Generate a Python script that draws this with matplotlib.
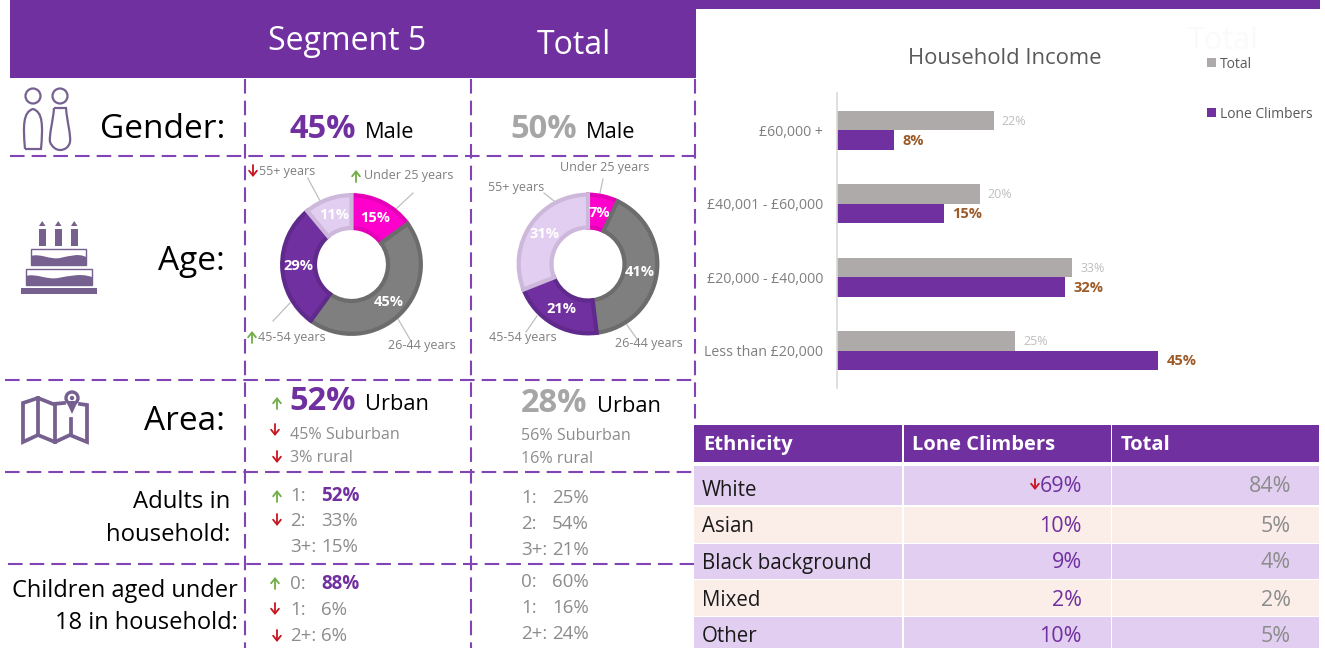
import matplotlib
matplotlib.use("Agg")
import matplotlib.pyplot as plt
from matplotlib.patches import Rectangle, Circle, PathPatch, Polygon
from matplotlib.path import Path

W, H = 1325, 648

PURPLE = "#7030A0"
DASH = "#8044B4"
ICON = "#75608F"
GREY_TXT = "#8C8C8C"
GREEN = "#70AD47"
RED = "#C8141E"

# Data
age_labels = ["Under 25 years", "26-44 years", "45-54 years", "55+ years"]
age_segment = [15, 45, 29, 11]
age_total = [7, 41, 21, 31]
age_colors = ["#FF00CC", "#7F7F7F", "#7030A0", "#E1CEF0"]
age_edges = ["#E400B6", "#6C6C6C", "#5F2A8C", "#CDB8DC"]

income_labels = ["£60,000 +", "£40,001 - £60,000", "£20,000 - £40,000", "Less than £20,000"]
income_total = [22, 20, 33, 25]
income_climbers = [8, 15, 32, 45]

eth_headers = ["Ethnicity", "Lone Climbers", "Total"]
eth_labels = ["White", "Asian", "Black background", "Mixed", "Other"]
eth_climbers = [69, 10, 9, 2, 10]
eth_total = [84, 5, 4, 2, 5]

adults_keys = ["1:", "2:", "3+:"]
adults_segment = [52, 33, 15]
adults_total = [25, 54, 21]
children_keys = ["0:", "1:", "2+:"]
children_segment = [88, 6, 6]
children_total = [60, 16, 24]

plt.rcParams["font.family"] = ["Open Sans", "DejaVu Sans"]
fig = plt.figure(figsize=(W / 100, H / 100), dpi=100, facecolor="white")
ax = fig.add_axes([0, 0, 1, 1])
ax.set_xlim(0, W)
ax.set_ylim(H, 0)
ax.axis("off")


def px_axes(x0, y0, x1, y1):
    a = fig.add_axes([x0 / W, 1 - y1 / H, (x1 - x0) / W, (y1 - y0) / H])
    a.patch.set_alpha(0)
    return a


def txt(x, y, s, size, color="black", ha="left", weight="normal", **kw):
    ax.text(x, y + 3, s, fontsize=size, color=color, ha=ha, va="center", fontweight=weight, **kw)


def arrow(x, y0, y1, color):
    ax.annotate("", xy=(x, y1), xytext=(x, y0),
                arrowprops=dict(arrowstyle="->,head_length=0.35,head_width=0.28", color=color,
                                lw=1.3, shrinkA=0, shrinkB=0))


def up(x, y):
    arrow(x, y + 6, y - 6, GREEN)


def down(x, y):
    arrow(x, y - 6, y + 6, RED)


# Header blocks
ax.add_patch(Rectangle((10, 0), 686, 78, color=PURPLE, lw=0))
ax.add_patch(Rectangle((696, 0), 1320 - 696, 9, color=PURPLE, lw=0))
txt(347, 38, "Segment 5", 23, "white", ha="center")
txt(574, 43, "Total", 23, "white", ha="center")

# Dashed grid
dash = dict(color=DASH, lw=1.5, linestyle=(0, (7, 3.4)))
for y, x0 in [(155.5, 10), (380, 5), (472, 5), (564, 8)]:
    ax.plot([x0, 694], [y, y], **dash)
for x in [245, 471]:
    ax.plot([x, x], [79, H], **dash)
ax.plot([694.5, 694.5], [79, 424], **dash)

# Row titles
txt(225, 127, "Gender:", 24, ha="right")
txt(225, 258, "Age:", 24, ha="right")
txt(225, 419, "Area:", 24, ha="right")
txt(230, 499, "Adults in", 17.2, ha="right")
txt(230, 532, "household:", 17.2, ha="right")
txt(238, 588, "Children aged under", 17, ha="right")
txt(238, 620, "18 in household:", 17, ha="right")

# Gender row
txt(289, 126, "45%", 23.5, PURPLE, weight="bold")
txt(365, 130, "Male", 15.7)
txt(510, 126, "50%", 23.5, "#A6A6A6", weight="bold")
txt(586, 130, "Male", 15.7)

# Area row
txt(289, 399, "52%", 23.5, PURPLE, weight="bold")
txt(365, 402, "Urban", 15.7)
txt(521, 400, "28%", 23.5, "#A6A6A6", weight="bold")
txt(597, 403, "Urban", 15.7)
txt(290, 432, "45% Suburban", 11.6, GREY_TXT)
txt(290, 455, "3% rural", 11.6, GREY_TXT)
txt(521, 433, "56% Suburban", 11.6, GREY_TXT)
txt(521, 456, "16% rural", 11.6, GREY_TXT)
up(277, 403)
down(275, 430)
down(277, 457)

# Adults / children rows
seg_ys = [[493, 518, 544], [581, 607, 633]]
tot_ys = [[495, 521, 547], [579, 605, 631]]
for keys, seg, tot, sy, ty in [(adults_keys, adults_segment, adults_total, seg_ys[0], tot_ys[0]),
                               (children_keys, children_segment, children_total, seg_ys[1], tot_ys[1])]:
    for i in range(3):
        txt(290, sy[i], keys[i], 13.5, GREY_TXT)
        txt(321, sy[i], f"{seg[i]}%", 13.5, PURPLE if i == 0 else GREY_TXT, weight="bold" if i == 0 else "normal")
        txt(521, ty[i], keys[i], 13.5, GREY_TXT)
        txt(552, ty[i], f"{tot[i]}%", 13.5, GREY_TXT)
up(277, 496)
down(277, 520)
up(275, 583)
down(275, 609)
down(277, 636)

# Age donuts
for cx, cy, vals in [(351.5, 264.5, age_segment), (588, 264, age_total)]:
    a = px_axes(cx - 73, cy - 73, cx + 73, cy + 73)
    wedges, _, pcts = a.pie(vals, colors=age_colors, startangle=90, counterclock=False, radius=0.95,
                            wedgeprops=dict(width=0.45, edgecolor="none"),
                            autopct=lambda p: f"{round(p)}%", pctdistance=0.76,
                            textprops=dict(color="white", fontweight="bold", fontsize=10.5))
    for w, e in zip(wedges, age_edges):
        w.set_edgecolor(e)
        w.set_linewidth(3)
        w.set_joinstyle("miter")
    a.set_xlim(-1, 1)
    a.set_ylim(-1, 1)
    a.set_aspect("equal")
    a.axis("off")

lead = dict(color="#BFBFBF", lw=0.9)
for (x0, y0, x1, y1) in [(307.7, 178, 320, 200.7), (413, 193, 396, 209), (398, 319, 411, 341), (290, 303, 273, 321),
                         (603, 179, 600, 193), (544, 193, 554, 201), (627, 325, 637, 339), (537, 316, 526, 332)]:
    ax.plot([x0, x1], [y0, y1], **lead)

age_txt = "#7F7F7F"
txt(259, 168, age_labels[3], 9, age_txt)
txt(364, 173, age_labels[0], 9, age_txt)
txt(388, 342, age_labels[1], 9, age_txt)
txt(258, 334, age_labels[2], 9, age_txt)
txt(560, 165, age_labels[0], 9, age_txt)
txt(488, 184, age_labels[3], 9, age_txt)
txt(615, 341, age_labels[1], 9, age_txt)
txt(489, 335, age_labels[2], 9, age_txt)
down(253, 171)
up(356, 176)
up(252, 337)

# Household income bars
bx = px_axes(837, 93.25, 837 + 50 * 7.13, 387.75)
ypos = list(range(len(income_labels)))
bar_h = 0.265
bx.barh([y - bar_h / 2 for y in ypos], income_total, height=bar_h, color="#AEAAAA")
bx.barh([y + bar_h / 2 for y in ypos], income_climbers, height=bar_h, color=PURPLE)
bx.set_xlim(0, 50)
bx.set_ylim(len(income_labels) - 0.5, -0.5)
bx.set_yticks(ypos, income_labels, fontsize=10.2, color="#7F7F7F")
bx.tick_params(axis="y", length=0, pad=10)
bx.set_xticks([])
for s in ["top", "right", "bottom"]:
    bx.spines[s].set_visible(False)
bx.spines["left"].set_color("#D9D9D9")
bx.spines["left"].set_linewidth(1.2)
for i in ypos:
    bx.text(income_total[i] + 1.1, i - bar_h / 2 + 0.01, f"{income_total[i]}%", fontsize=9, color="#BFBFBF", va="center")
    bx.text(income_climbers[i] + 1.2, i + bar_h / 2 + 0.01, f"{income_climbers[i]}%", fontsize=10.5, color="#9C5A27",
            va="center", fontweight="bold")

txt(1005, 56, "Household Income", 15.8, "#595959", ha="center")
txt(1188, 38, "Total", 22, "#FAFAFA")
ax.add_patch(Rectangle((1207, 58), 9, 8.5, color="#AEAAAA", lw=0))
ax.add_patch(Rectangle((1207, 108), 9, 8.5, color=PURPLE, lw=0))
txt(1220, 61, "Total", 10, "#595959")
txt(1220, 111, "Lone Climbers", 10, "#595959")

# Ethnicity table
col_x = [694, 903.5, 1112]
col_w = [208, 207, 207]
for x, w, h in zip(col_x, col_w, eth_headers):
    ax.add_patch(Rectangle((x, 425), w, 37, color=PURPLE, lw=0))
    txt(x + 9, 442, h, 14.5, "white", weight="bold")
row_tops = [466, 507, 544, 580, 617]
row_bots = [505, 543, 579, 616, H]
row_text = [487, 524, 560, 597, 634]
num_text = [484, 524, 560, 597, 634]
for i in range(len(eth_labels)):
    c = "#E1CEF0" if i % 2 == 0 else "#FBEDE8"
    for x, w in zip(col_x, col_w):
        ax.add_patch(Rectangle((x, row_tops[i]), w, row_bots[i] - row_tops[i], color=c, lw=0))
    txt(702, row_text[i], eth_labels[i], 14.8, "#1A1A1A")
    txt(1082, num_text[i], f"{eth_climbers[i]}%", 15.5, PURPLE, ha="right")
    txt(1291, num_text[i], f"{eth_total[i]}%", 15.5, "#8C8C8C", ha="right")
arrow(1035, 479, 490, RED)

# Gender icon
icon_line = dict(fill=False, edgecolor=ICON, lw=1.6)
ax.add_patch(Circle((33, 96), 7.5, **icon_line))
ax.add_patch(Circle((60, 96), 7.5, **icon_line))
C = Path.CURVE4
L = Path.LINETO
ax.add_patch(PathPatch(Path([(25, 149), (23, 126), (23, 112), (33, 109), (43, 112), (43, 126), (41, 149), (25, 149)],
                            [Path.MOVETO, C, C, C, C, C, L, L]), **icon_line))
ax.add_patch(PathPatch(Path([(54, 108), (53, 122), (49, 134), (50, 142), (52, 147), (56, 150), (60, 150),
                             (65, 150), (69, 147), (70, 142), (71, 134), (67, 122), (66, 108), (54, 108)],
                            [Path.MOVETO, C, C, C, C, C, C, C, C, C, C, C, C, L]), **icon_line))

# Cake icon
for x in [39, 55, 71]:
    ax.add_patch(Rectangle((x, 229), 6.5, 17, color=ICON, lw=0))
    ax.add_patch(Polygon([(x, 226), (x + 3.2, 221), (x + 6.5, 226)], color=ICON, lw=0))
ax.add_patch(Rectangle((31, 249), 55, 16, facecolor="white", edgecolor=ICON, lw=1))
ax.add_patch(PathPatch(Path([(31, 256), (40, 253), (50, 260), (60, 258), (70, 256), (78, 253), (86, 257), (86, 265), (31, 265), (31, 256)],
                            [Path.MOVETO, C, C, C, C, C, C, L, L, L]), color=ICON, lw=0))
ax.add_patch(Rectangle((26, 269), 66, 16, facecolor="white", edgecolor=ICON, lw=1))
ax.add_patch(PathPatch(Path([(26, 276), (36, 273), (46, 280), (58, 278), (70, 276), (80, 273), (92, 277), (92, 285), (26, 285), (26, 276)],
                            [Path.MOVETO, C, C, C, C, C, C, L, L, L]), color=ICON, lw=0))
ax.add_patch(Rectangle((21, 288), 76, 6, color=ICON, lw=0))

# Map icon
map_line = dict(color=ICON, lw=2.7, solid_joinstyle="miter")
ax.plot([64, 53, 38, 23, 23, 38, 55, 70, 87, 87, 80],
        [403, 404, 398, 403, 442, 435, 442, 435, 442, 405, 404], **map_line)
ax.plot([38, 38], [398, 435], **map_line)
ax.plot([55, 55], [404, 442], **map_line)
ax.plot([71, 71], [419, 435], **map_line)
ax.add_patch(Circle((72, 398), 6, fill=False, edgecolor=ICON, lw=2.4))
ax.add_patch(Polygon([(66, 401), (78, 401), (72, 414)], color=ICON, lw=0))
ax.add_patch(Circle((72, 398), 2.2, color=ICON, lw=0))

fig.savefig("out.png", dpi=100)
